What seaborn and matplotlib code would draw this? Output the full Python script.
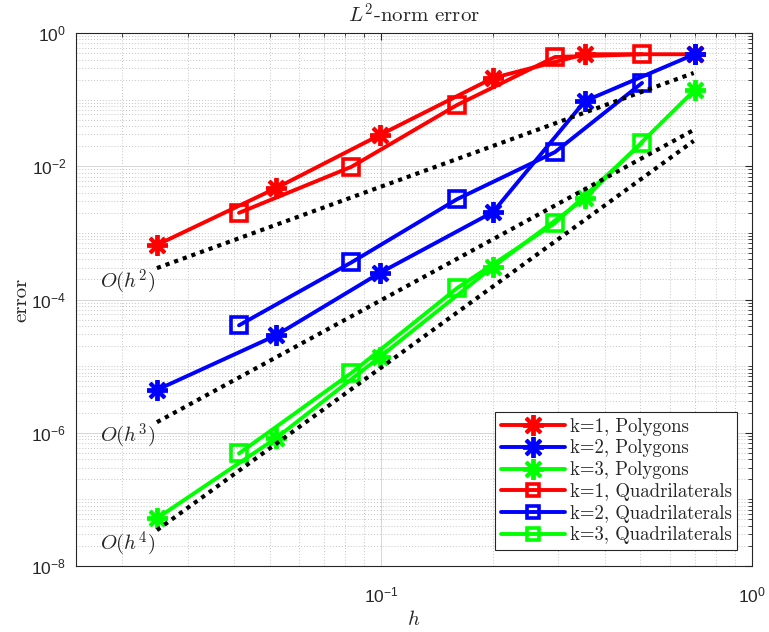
import numpy as np
import pandas as pd
import matplotlib
matplotlib.use("Agg")
import matplotlib.pyplot as plt
import matplotlib.ticker as mticker
import seaborn as sns

# mesh sizes
h_poly = [0.0248, 0.052, 0.099, 0.2, 0.354, 0.7]
h_quad = [0.0413, 0.083, 0.16, 0.294, 0.505]

# L2 errors, polygons
err_k1_poly = [6.6e-4, 4.7e-3, 0.0294, 0.211, 0.48, 0.48]
err_k2_poly = [4.4e-6, 2.9e-5, 2.5e-4, 2.05e-3, 0.095, 0.48]
err_k3_poly = [5.2e-8, 8.3e-7, 1.37e-5, 3.1e-4, 3.3e-3, 0.139]

# L2 errors, quadrilaterals
err_k1_quad = [2.0e-3, 9.8e-3, 0.083, 0.436, 0.48]
err_k2_quad = [4.1e-5, 3.6e-4, 3.2e-3, 0.0163, 0.178]
err_k3_quad = [4.9e-7, 7.9e-6, 1.48e-4, 1.4e-3, 0.0224]

# reference slopes (end points)
h_ref = [0.0248, 0.696]
ref_h2 = [2.96e-4, 0.251]
ref_h3 = [1.44e-6, 0.035]
ref_h4 = [3.45e-8, 0.024]
ref_labels = ["$O(h^2)$", "$O(h^3)$", "$O(h^4)$"]

sns.set_theme(style="white")
plt.rcParams["font.family"] = ["Liberation Sans", "DejaVu Sans"]
plt.rcParams["mathtext.fontset"] = "cm"
plt.rcParams["axes.unicode_minus"] = False

fig = plt.figure(figsize=(7.69, 6.32), dpi=100)
ax = fig.add_axes([76 / 769, 66 / 632, 676 / 769, 533 / 632])

series = [
    ("k=1, Polygons", h_poly, err_k1_poly, "#ff0000", "star"),
    ("k=2, Polygons", h_poly, err_k2_poly, "#0000ff", "star"),
    ("k=3, Polygons", h_poly, err_k3_poly, "#00ff00", "star"),
    ("k=1, Quadrilaterals", h_quad, err_k1_quad, "#ff0000", "sq"),
    ("k=2, Quadrilaterals", h_quad, err_k2_quad, "#0000ff", "sq"),
    ("k=3, Quadrilaterals", h_quad, err_k3_quad, "#00ff00", "sq"),
]

for name, hh, ee, col, mk in series:
    df = pd.DataFrame({"h": hh, "err": ee})
    if mk == "star":
        sns.lineplot(data=df, x="h", y="err", ax=ax, color=col, lw=2.8,
                     marker=(8, 2, 0), markersize=15, mew=2.8, mec=col,
                     label=name, errorbar=None, sort=False)
    else:
        sns.lineplot(data=df, x="h", y="err", ax=ax, color=col, lw=2.8,
                     marker="s", markersize=11, mew=2.6, mec=col, mfc="none",
                     label=name, errorbar=None, sort=False)

for ref, lab in zip([ref_h2, ref_h3, ref_h4], ref_labels):
    sns.lineplot(x=h_ref, y=ref, ax=ax, color="black", lw=3,
                 linestyle=(0, (1, 1.2)), errorbar=None, legend=False)
    ax.annotate(lab, (h_ref[0], ref[0]), xytext=(-1, -10),
                textcoords="offset points", ha="right", va="center",
                fontsize=15, family="cmr10")

ax.set_xscale("log")
ax.set_yscale("log")
ax.set_xlim(0.015, 1)
ax.set_ylim(1e-8, 1)

ax.yaxis.set_major_locator(mticker.FixedLocator([1e-8, 1e-6, 1e-4, 1e-2, 1]))
yminor = [k * 10.0 ** n for n in range(-8, 0) for k in range(1, 10)
          if not (k == 1 and n % 2 == 0)]
ax.yaxis.set_minor_locator(mticker.FixedLocator(yminor))
ax.yaxis.set_minor_formatter(mticker.NullFormatter())
ax.xaxis.set_major_locator(mticker.FixedLocator([0.1, 1]))
xminor = [k * 10.0 ** n for n in (-2, -1) for k in range(2, 10)]
ax.xaxis.set_minor_locator(mticker.FixedLocator(xminor))
ax.xaxis.set_minor_formatter(mticker.NullFormatter())
ax.xaxis.set_major_formatter(mticker.LogFormatterSciNotation())
ax.yaxis.set_major_formatter(mticker.LogFormatterSciNotation())

ax.grid(True, which="major", color="#d6d6d6", lw=0.7, ls="-")
ax.grid(True, which="minor", color="#c4c4c4", lw=0.7, ls=(0, (1, 2)))
ax.set_axisbelow(True)

ax.tick_params(which="both", direction="in", top=True, right=True,
               colors="#262626", labelsize=12.5)
ax.tick_params(which="major", length=5, width=0.8)
ax.tick_params(which="minor", length=3, width=0.6)
ax.tick_params(axis="x", pad=14)
ax.tick_params(axis="y", pad=7)
for s in ax.spines.values():
    s.set_color("#262626")
    s.set_linewidth(0.8)

ax.set_title("$L^2$-norm error", fontsize=15, family="cmr10", pad=7)
ax.set_xlabel("$h$", fontsize=15, labelpad=3)
ax.set_ylabel("error", fontsize=15, family="cmr10", labelpad=1)

leg = ax.legend(loc="lower right", bbox_to_anchor=(0.978, 0.03),
                borderaxespad=0, prop={"family": "cmr10", "size": 13.5},
                handlelength=3.4, handletextpad=0.25, labelspacing=0.2,
                borderpad=0.3, frameon=True, fancybox=False, framealpha=1,
                edgecolor="#262626")
leg.get_frame().set_linewidth(0.8)
for lh in leg.legend_handles:
    if lh.get_marker() == "s":
        lh.set_markersize(9)

fig.savefig("out.png", dpi=100)
